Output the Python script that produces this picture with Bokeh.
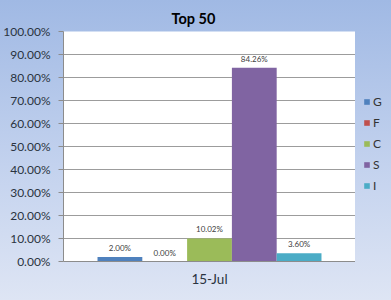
from bokeh.plotting import figure
from bokeh.layouts import row
from bokeh.models import ColumnDataSource, FactorRange, Range1d, Legend, LegendItem, PrintfTickFormatter, FixedTicker, LabelSet
from bokeh.core.properties import value
from bokeh.transform import dodge
from bokeh.embed import file_html
from bokeh.resources import INLINE

categories = ["15-Jul"]
series = ["G", "F", "C", "S", "I"]
values = [2.00, 0.00, 10.02, 84.26, 3.60]
colors = ["#4F81BD", "#C0504D", "#9BBB59", "#8064A2", "#4BACC6"]
yticks = [0, 10, 20, 30, 40, 50, 60, 70, 80, 90, 100]

FONT = "Lato"
GRAD = "linear-gradient(to bottom, #A0B9E4 0%, #C3D2EE 55%, #DEE5F4 100%)"

p = figure(x_range=FactorRange(factors=categories, range_padding=0),
           y_range=Range1d(0, 100),
           frame_width=292, frame_height=230,
           min_border_left=63, min_border_right=0, min_border_top=31, min_border_bottom=39,
           output_backend="svg", toolbar_location=None)
p.border_fill_color = None
p.styles = {"background": GRAD}
p.background_fill_color = "white"
p.outline_line_color = None

p.title.text = "Top 50"
p.title.align = "left"
p.title.offset = 108
p.title.text_font = FONT
p.title.text_font_size = "14.5px"
p.title.text_font_style = "bold"
p.title.text_color = "#000000"
p.title.standoff = 10

bw = 0.1534
for i, (s, v, c) in enumerate(zip(series, values, colors)):
    src = ColumnDataSource(dict(x=categories, top=[v], lab=["%.2f%%" % v]))
    off = (i - 2) * bw
    p.vbar(x=dodge("x", off, range=p.x_range), top="top", width=bw, source=src,
           fill_color=c, line_color=None)
    p.add_layout(LabelSet(x=dodge("x", off, range=p.x_range), y="top", text="lab", source=src,
                          text_align="center", text_baseline="middle", y_offset=9,
                          text_font_size=value("8px"), text_color=value("#404040"),
                          text_font=value(FONT)))

p.yaxis.ticker = FixedTicker(ticks=yticks)
p.yaxis.formatter = PrintfTickFormatter(format="%.2f%%")
p.yaxis.major_label_text_font = FONT
p.yaxis.major_label_text_font_size = "12px"
p.yaxis.major_label_text_color = "#2A3340"
p.yaxis.axis_line_color = "#8C8C8C"
p.yaxis.major_tick_line_color = "#8C8C8C"
p.yaxis.major_tick_out = 5
p.yaxis.major_tick_in = 0
p.yaxis.minor_tick_line_color = None
p.yaxis.major_label_standoff = 8

p.xaxis.axis_line_color = "#8C8C8C"
p.xaxis.major_tick_line_color = None
p.xaxis.minor_tick_line_color = None
p.xaxis.major_label_text_font = FONT
p.xaxis.major_label_text_font_size = "13.5px"
p.xaxis.major_label_text_color = "#2A3340"
p.xaxis.major_label_standoff = 3

p.xgrid.grid_line_color = None
p.ygrid.grid_line_color = "#9C9C9C"
p.ygrid.ticker = FixedTicker(ticks=yticks[:-1])

# legend panel
p2 = figure(width=36, height=300, x_range=Range1d(0, 1), y_range=Range1d(0, 1),
            min_border=0, output_backend="svg", toolbar_location=None)
p2.border_fill_color = None
p2.background_fill_color = None
p2.styles = {"background": GRAD}
p2.outline_line_color = None
p2.axis.visible = False
p2.grid.grid_line_color = None
items = []
for s, c in zip(series, colors):
    r = p2.vbar(x=[5], top=[5], width=1, fill_color=c, line_color=None)
    items.append(LegendItem(label=s, renderers=[r]))
legend = Legend(items=items, location=(8, 68), orientation="vertical",
                glyph_width=7, glyph_height=7, label_height=14, spacing=6,
                padding=0, margin=0, border_line_color=None, background_fill_alpha=0,
                label_text_font_size="12px", label_text_font=FONT, label_text_color="#333333",
                label_standoff=3, label_width=10)
p2.add_layout(legend, "center")

layout = row(p, p2, spacing=0)
layout.styles = {"outline": "1px solid #9AA3B0", "outline-offset": "-1px"}

open("out.html", "w").write(file_html(layout, INLINE))
